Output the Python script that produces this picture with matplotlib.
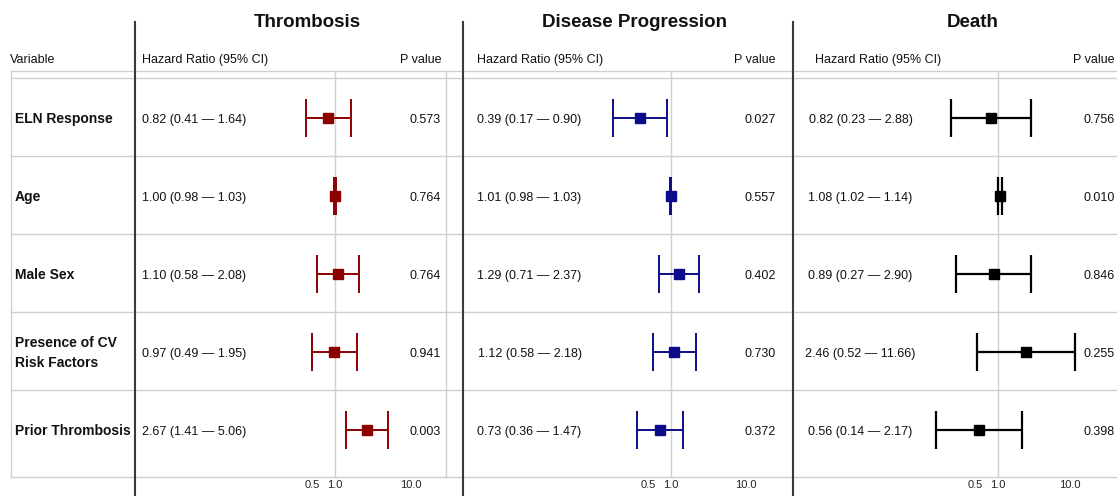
import matplotlib
matplotlib.use("Agg")
import matplotlib.pyplot as plt

plt.rcParams['font.family'] = ['Liberation Sans', 'DejaVu Sans']

# ---------------- data ----------------
variables = ["ELN Response", "Age", "Male Sex", "Presence of CV\nRisk Factors", "Prior Thrombosis"]

panel_titles = ["Thrombosis", "Disease Progression", "Death"]

thromb_hr = [0.82, 1.00, 1.10, 0.97, 2.67]
thromb_lo = [0.41, 0.98, 0.58, 0.49, 1.41]
thromb_hi = [1.64, 1.03, 2.08, 1.95, 5.06]
thromb_p = ["0.573", "0.764", "0.764", "0.941", "0.003"]

prog_hr = [0.39, 1.01, 1.29, 1.12, 0.73]
prog_lo = [0.17, 0.98, 0.71, 0.58, 0.36]
prog_hi = [0.90, 1.03, 2.37, 2.18, 1.47]
prog_p = ["0.027", "0.557", "0.402", "0.730", "0.372"]

death_hr = [0.82, 1.08, 0.89, 2.46, 0.56]
death_lo = [0.23, 1.02, 0.27, 0.52, 0.14]
death_hi = [2.88, 1.14, 2.90, 11.66, 2.17]
death_p = ["0.756", "0.010", "0.846", "0.255", "0.398"]

tick_values = [0.5, 1.0, 10.0]
tick_labels = ["0.5", "1.0", "10.0"]

panel_colors = ["#8b0000", "#0c0c8a", "#000000"]

# ---------------- layout (pixels) ----------------
W, H = 1117, 496
fig = plt.figure(figsize=(W / 100, H / 100), dpi=100)
bg = fig.add_axes([0, 0, 1, 1])
bg.set_xlim(0, W)
bg.set_ylim(H, 0)
bg.axis("off")

grid_c = "#cfcfcf"
top_y, bot_y = 71, 477
row_h = 78
row0 = 118
nrows = len(variables)
row_centers = [row0 + i * row_h for i in range(nrows)]

# horizontal grid lines
for y in [71, 78] + [78 + row_h * (i + 1) for i in range(nrows - 1)] + [bot_y]:
    bg.plot([11, W], [y, y], color=grid_c, lw=1.0, zorder=1)
# vertical grey borders
for x in [11, 446]:
    bg.plot([x, x], [top_y, bot_y], color=grid_c, lw=1.0, zorder=1)
# thick dark separators
for x in [135, 463, 793]:
    bg.plot([x, x], [22, H], color="#3a3a3a", lw=1.5, zorder=3)

# header
bg.text(10, 63, "Variable", fontsize=9, ha="left", va="baseline", color="#111")

# row labels
for var, yc in zip(variables, row_centers):
    lines = var.split("\n")
    n = len(lines)
    for k, ln in enumerate(lines):
        yb = yc + 5 + (k - (n - 1) / 2) * 20
        bg.text(15, yb, ln, fontsize=10, fontweight="bold", ha="left", va="baseline", color="#111")

panels = [
    dict(hr=thromb_hr, lo=thromb_lo, hi=thromb_hi, p=thromb_p,
         title_x=307, head_x=142, val_x=194.5, p_x=441,
         ax_l=250, ax_r=446, ref_px=335, dec_px=75.5, lw=1.4),
    dict(hr=prog_hr, lo=prog_lo, hi=prog_hi, p=prog_p,
         title_x=635, head_x=477, val_x=529.5, p_x=776,
         ax_l=585, ax_r=792, ref_px=670.5, dec_px=75.0, lw=1.4),
    dict(hr=death_hr, lo=death_lo, hi=death_hi, p=death_p,
         title_x=973, head_x=815, val_x=860.5, p_x=1114.5,
         ax_l=905, ax_r=W, ref_px=997.5, dec_px=72.6, lw=1.6),
]

for title, pc, col in zip(panel_titles, panels, panel_colors):
    bg.text(pc["title_x"], 27, title, fontsize=13.5, fontweight="bold",
            ha="center", va="baseline", color="#111")
    bg.text(pc["head_x"], 63, "Hazard Ratio (95% CI)", fontsize=9,
            ha="left", va="baseline", color="#111")
    bg.text(pc["p_x"], 63, "P value", fontsize=9, ha="right", va="baseline", color="#111")
    for hr, lo, hi, p, yc in zip(pc["hr"], pc["lo"], pc["hi"], pc["p"], row_centers):
        bg.text(pc["val_x"], yc + 5, f"{hr:.2f} ({lo:.2f} \u2014 {hi:.2f})", fontsize=9,
                ha="center", va="baseline", color="#111")
        bg.text(pc["p_x"], yc + 5, p, fontsize=9, ha="right", va="baseline", color="#111")

    # forest axis
    L, R = pc["ax_l"], pc["ax_r"]
    ax = fig.add_axes([L / W, 1 - bot_y / H, (R - L) / W, (bot_y - top_y) / H])
    ax.patch.set_alpha(0)
    ax.set_xscale("log")
    ax.set_xlim(10 ** ((L - pc["ref_px"]) / pc["dec_px"]),
                10 ** ((R - pc["ref_px"]) / pc["dec_px"]))
    ax.set_ylim(nrows - 1 + (bot_y - row_centers[-1]) / row_h, -(row0 - top_y) / row_h)
    for s in ax.spines.values():
        s.set_visible(False)
    ax.axvline(1.0, color=grid_c, lw=1.0, zorder=1)
    ypos = list(range(nrows))
    xerr = [[h - l for h, l in zip(pc["hr"], pc["lo"])],
            [u - h for h, u in zip(pc["hr"], pc["hi"])]]
    ax.errorbar(pc["hr"], ypos, xerr=xerr, fmt="s", color=col, ecolor=col,
                markersize=7.5, elinewidth=pc["lw"], capsize=13.7, capthick=pc["lw"], zorder=3)
    ax.set_yticks([])
    ax.set_xticks(tick_values)
    ax.set_xticklabels(tick_labels)
    ax.xaxis.set_minor_locator(matplotlib.ticker.NullLocator())
    ax.tick_params(axis="x", length=0, pad=2, labelsize=8, labelcolor="#222")

fig.savefig("out.png", dpi=100)
